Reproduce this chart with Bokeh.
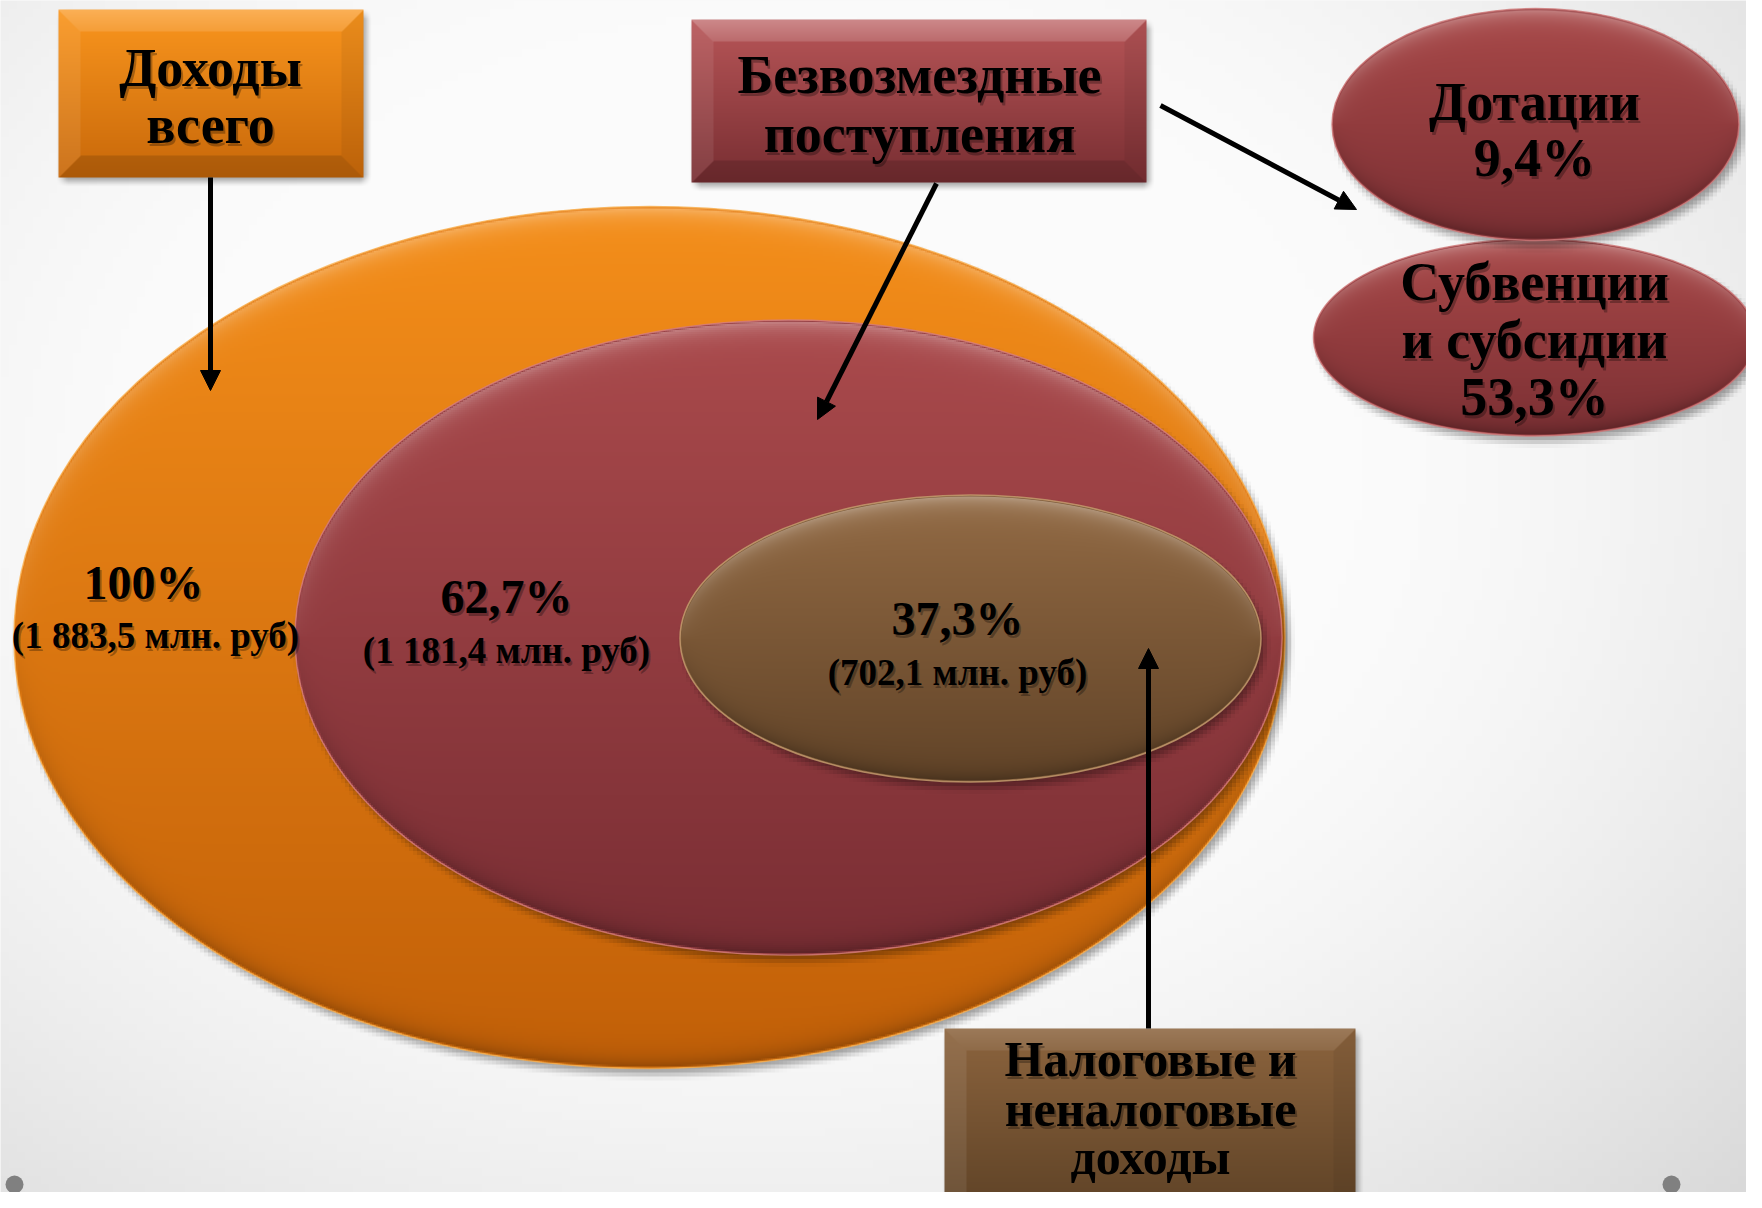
import numpy as np
from bokeh.plotting import figure
from bokeh.models import Range1d, Arrow, NormalHead
from bokeh.core.properties import value
from bokeh.embed import file_html
from bokeh.resources import INLINE

# ---------------- data ----------------
levels = ["Доходы всего", "Безвозмездные поступления", "Налоговые и неналоговые доходы"]
level_share = [100.0, 62.7, 37.3]          # %
level_amount = [1883.5, 1181.4, 702.1]     # млн. руб
box_lines = [["Доходы", "всего"], ["Безвозмездные", "поступления"], ["Налоговые и", "неналоговые", "доходы"]]
sub_names = [["Дотации"], ["Субвенции", "и субсидии"]]
sub_share = [9.4, 53.3]                    # % of безвозмездные поступления


def fmt_pct(v):
    return (f"{v:g}%").replace(".", ",")


def fmt_amt(v):
    return "(" + f"{v:,.1f}".replace(",", " ").replace(".", ",") + " млн. руб)"


# ---------------- layout (screen px) ----------------
ELL = [(649, 637, 1271, 862), (788, 637, 987, 635), (970, 638, 581, 287)]
SUB_ELL = [(1535, 124, 407, 232), (1534, 337, 442, 197)]
BOXES = [(58, 9, 363, 177), (691, 19, 1146, 182), (944, 1028, 1355, 1215)]
ARROWS = [((210, 177), (210, 390)), ((936, 183), (817, 419)),
          ((1160, 105), (1356, 209)), ((1148, 1028), (1148, 648))]
VAL_POS = [((143, 582), (155, 635)), ((506, 596), (506, 650)), ((957, 618), (957, 672))]
BOX_TXT = [(210, [67, 124]), (919, [74, 133]), (1150, [1058, 1108, 1156])]
SUB_TXT = [(1534, [101, 157]), (1534, [281, 339, 396])]

ELL_COL = [((244, 142, 26), (194, 96, 8), "#E27A12", "#F9B050"),
           ((170, 74, 76), (122, 46, 52), "#963E42", "#D88080"),
           ((146, 106, 68), (98, 68, 40), "#7E5B3A", "#C8A070")]
SUB_COL = ((168, 72, 72), (124, 48, 52), "#963E42", "#D07A7A")
BOX_COL = [((250, 150, 30), (200, 104, 10), 0.25),
           ((184, 86, 88), (120, 46, 50), 0.30),
           ((140, 100, 62), (94, 66, 38), 0.14)]

W_FIG, H_FIG = 1746, 1192


def Y(v):
    return -v


def to_u32(rgb, alpha):
    H, W = alpha.shape
    arr = np.zeros((H, W, 4), dtype=np.uint8)
    arr[..., :3] = np.clip(rgb, 0, 255).astype(np.uint8)
    arr[..., 3] = (np.clip(alpha, 0, 1) * 255).astype(np.uint8)
    arr = np.ascontiguousarray(arr[::-1])
    return arr.view(np.uint32).reshape(H, W)


def ell_dist(X, Yy, a, b):
    r = np.sqrt((X / a) ** 2 + (Yy / b) ** 2)
    g = np.sqrt((X / a ** 2) ** 2 + (Yy / b ** 2) ** 2) / np.maximum(r, 1e-9)
    return (1 - r) / np.maximum(g, 1e-9)


def ellipse_fill(w, h, top, bot, scale, inset=1.5, bevel=10.0, hl=0.32, dk=0.25):
    W = int(np.ceil(w * scale)); H = int(np.ceil(h * scale))
    xs = (np.arange(W) + 0.5) / W * w - w / 2
    ys = (np.arange(H) + 0.5) / H * h - h / 2
    X, Yy = np.meshgrid(xs, ys)
    a, b = w / 2 - inset, h / 2 - inset
    d = ell_dist(X, Yy, a, b)
    alpha = np.clip(d * scale + 0.5, 0, 1)
    t = ((Yy + h / 2) / h)[..., None]
    col = np.array(top, float) * (1 - t) + np.array(bot, float) * t
    rim = np.exp(-np.maximum(d, 0) / bevel)
    up = np.clip(-Yy / b, 0, 1) ** 0.7
    down = np.clip(Yy / b, 0, 1) ** 0.7
    col = col + (255 - col) * (rim * up * hl)[..., None] - col * (rim * down * dk)[..., None]
    return to_u32(col, alpha)


def ellipse_shadow(w, h, blur, scale, opacity):
    pad = 2 * blur
    W = int(np.ceil((w + 2 * pad) * scale)); H = int(np.ceil((h + 2 * pad) * scale))
    xs = (np.arange(W) + 0.5) / W * (w + 2 * pad) - (w / 2 + pad)
    ys = (np.arange(H) + 0.5) / H * (h + 2 * pad) - (h / 2 + pad)
    X, Yy = np.meshgrid(xs, ys)
    d = ell_dist(X, Yy, w / 2, h / 2)
    s = np.clip((d + blur) / (2 * blur), 0, 1)
    s = s * s * (3 - 2 * s)
    return to_u32(np.zeros(d.shape + (3,)), s * opacity), pad


def box_fill(w, h, top, bot, topband, bevel=22):
    W, H = int(round(w)), int(round(h))
    X, Yy = np.meshgrid(np.arange(W) + 0.5, np.arange(H) + 0.5)
    t = (Yy / H)[..., None]
    col = np.array(top, float) * (1 - t) + np.array(bot, float) * t
    dl, dr, dt, db = X, W - X, Yy, H - Yy
    m = np.minimum(np.minimum(dl, dr), np.minimum(dt, db))
    band = m < bevel
    f = np.zeros_like(X)
    f[band & (dt == m)] = topband * (1 - 0.5 * (Yy[band & (dt == m)] / bevel))
    f[band & (dl == m) & (dt != m)] = 0.08
    f[band & (dr == m) & (dt != m)] = -0.06
    f[band & (db == m) & (dl != m) & (dr != m)] = -0.14
    fl = np.clip(f, 0, None)[..., None]
    fd = np.clip(-f, 0, None)[..., None]
    col = col + (255 - col) * fl - col * fd
    return to_u32(col, np.ones_like(X))


def box_shadow(w, h, blur, opacity, scale=0.5):
    pad = 2 * blur
    W = int(np.ceil((w + 2 * pad) * scale)); H = int(np.ceil((h + 2 * pad) * scale))
    xs = (np.arange(W) + 0.5) / W * (w + 2 * pad) - pad
    ys = (np.arange(H) + 0.5) / H * (h + 2 * pad) - pad
    X, Yy = np.meshgrid(xs, ys)
    dx = np.minimum(X, w - X); dy = np.minimum(Yy, h - Yy)
    sx = np.clip((dx + blur) / (2 * blur), 0, 1); sy = np.clip((dy + blur) / (2 * blur), 0, 1)
    s = sx * sy
    s = s * s * (3 - 2 * s)
    return to_u32(np.zeros(s.shape + (3,)), s * opacity), pad


# ---------------- figure ----------------
p = figure(width=W_FIG, height=H_FIG, x_range=Range1d(0, W_FIG), y_range=Range1d(-H_FIG, 0),
           toolbar_location=None, output_backend="svg", min_border=0,
           background_fill_color="#f4f4f4", border_fill_color="#f4f4f4")
p.axis.visible = False
p.grid.visible = False
p.outline_line_color = None

# background vignette
bs = 0.125
BW, BH = int(W_FIG * bs), int(H_FIG * bs)
gx, gy = np.meshgrid((np.arange(BW) + 0.5) / bs, (np.arange(BH) + 0.5) / bs)
u = (gx - 760) / 1000.0
v = (gy - 470) / 760.0
rr = np.sqrt(u ** 2 + v ** 2)
tt = np.clip((rr - 0.6) / 0.8, 0, 1) ** 1.4
bgv = 251 - 36 * tt
bg = to_u32(np.repeat(bgv[..., None], 3, axis=2), np.ones_like(bgv))
p.image_rgba(image=[bg], x=0, y=-H_FIG, dw=W_FIG, dh=H_FIG)


def draw_ellipse(cx, cy, w, h, top, bot, mid, rim, scale, shadow_op=0.35):
    sh, pad = ellipse_shadow(w, h, 7, 0.25, shadow_op)
    p.image_rgba(image=[sh], x=cx - w / 2 - pad + 4, y=Y(cy + h / 2 + pad + 6), dw=w + 2 * pad, dh=h + 2 * pad)
    p.ellipse(x=[cx], y=[Y(cy)], width=[w], height=[h], fill_color=mid, line_color=rim, line_width=1.5, line_alpha=0.8)
    img = ellipse_fill(w, h, top, bot, scale)
    p.image_rgba(image=[img], x=cx - w / 2, y=Y(cy + h / 2), dw=w, dh=h)


for i, (cx, cy, w, h) in enumerate(ELL):
    top, bot, mid, rim = ELL_COL[i]
    draw_ellipse(cx, cy, w, h, top, bot, mid, rim, 0.5 if w > 800 else 1.0)

for j in [1, 0]:
    cx, cy, w, h = SUB_ELL[j]
    top, bot, mid, rim = SUB_COL
    draw_ellipse(cx, cy, w, h, top, bot, mid, rim, 1.0)

for i, (x0, y0, x1, y1) in enumerate(BOXES):
    w, h = x1 - x0, y1 - y0
    sh, pad = box_shadow(w, h, 6, 0.35)
    p.image_rgba(image=[sh], x=x0 - pad + 3, y=Y(y1 + pad + 4), dw=w + 2 * pad, dh=h + 2 * pad)
    img = box_fill(w, h, *BOX_COL[i])
    p.image_rgba(image=[img], x=x0, y=Y(y1), dw=w, dh=h)

for (xs, ys), (xe, ye) in ARROWS:
    p.add_layout(Arrow(x_start=xs, y_start=Y(ys), x_end=xe, y_end=Y(ye), line_width=5, line_color="black",
                       end=NormalHead(size=20, fill_color="black", line_color="black", line_width=1)))

SERIF = value("Liberation Serif")


def label(x, y, txt, size, shadow=True):
    if shadow:
        p.text(x=[x + 2], y=[Y(y) - 3], text=[txt], text_font=SERIF, text_font_style="bold",
               text_font_size=size, text_align="center", text_baseline="middle", text_color="black",
               text_alpha=0.28)
    p.text(x=[x], y=[Y(y)], text=[txt], text_font=SERIF, text_font_style="bold",
           text_font_size=size, text_align="center", text_baseline="middle", text_color="black")


for i in range(len(levels)):
    (px, py), (ax, ay) = VAL_POS[i]
    label(px, py, fmt_pct(level_share[i]), "48px")
    label(ax, ay, fmt_amt(level_amount[i]), "37px")

for i, (bx, ys) in enumerate(BOX_TXT):
    size = "50px" if i == 2 else "54px"
    for k, (line, yy) in enumerate(zip(box_lines[i], ys)):
        label(bx, yy, line, size, shadow=not (i == 2 and k == 2))

for j, (sx, ys) in enumerate(SUB_TXT):
    lines = sub_names[j] + [fmt_pct(sub_share[j])]
    for line, yy in zip(lines, ys):
        label(sx, yy, line, "54px")

p.scatter(x=[14, 1671], y=[Y(1184), Y(1184)], size=18, marker="circle", fill_color="#808080", line_color=None)

open("out.html", "w").write(file_html(p, INLINE))
